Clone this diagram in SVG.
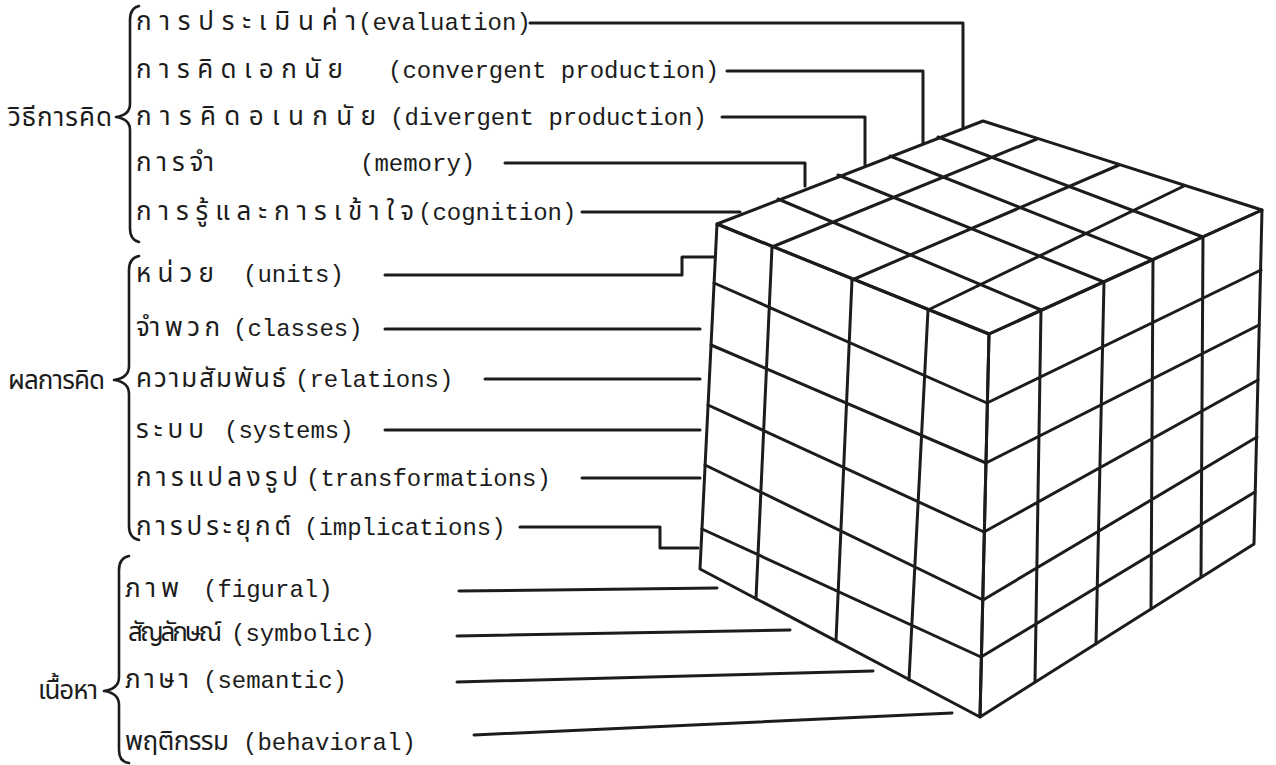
<svg xmlns="http://www.w3.org/2000/svg" width="1276" height="765" viewBox="0 0 1276 765">
<style>
.bg{fill:#ffffff}
.ln{fill:none;stroke:#1c1c1c;stroke-width:3;stroke-linecap:round;stroke-linejoin:round}
.cb{fill:none;stroke:#1c1c1c;stroke-width:3;stroke-linecap:round;stroke-linejoin:round}
.br{fill:none;stroke:#1c1c1c;stroke-width:2.6;stroke-linecap:round;stroke-linejoin:round}
.th{font-family:"Noto Sans Thai","Loma","Tlwg Typewriter","Garuda","Norasi","DejaVu Sans","Noto Sans",sans-serif;font-size:26px;fill:#1c1c1c}
.en{font-family:"Liberation Mono","Courier New",monospace;font-size:24px;fill:#1c1c1c}
</style>
<rect class="bg" x="0" y="0" width="1276" height="765"/>

<g id="cube">
  <!-- top face -->
  <polygon class="cb" points="983,121 1262,210 989,334 717,224"/>
  <path class="cb" d="M938,137 L1203,237 M890,156 L1153,260 M838,175 L1104,282 M778,199 L1041,310
                      M1037,139 L772,247 M1119,165 L852,280 M1184,186 L928,310"/>
  <!-- left face -->
  <polygon class="cb" points="717,224 989,334 980,717 700,569"/>
  <path class="cb" d="M714,283 L987,403 M711,345 L986,463 M708,405 L984,532 M705,465 L983,600 M702,529 L981,657
                      M772,247 L756,599 M852,280 L836,641 M928,310 L909,680"/>
  <!-- right face -->
  <polygon class="cb" points="989,334 1262,210 1254,544 980,717"/>
  <path class="cb" d="M987,403 L1261,270 M986,463 L1259,325 M984,532 L1258,380 M983,600 L1257,437 M981,657 L1255,492
                      M1041,310 L1035,682 M1104,282 L1096,644 M1153,260 L1151,609 M1203,237 L1201,577"/>
</g>

<g id="connectors">
  <polyline class="ln" points="530,23 963,23 963,128"/>
  <polyline class="ln" points="727,71 923,71 923,143"/>
  <polyline class="ln" points="722,117 865,117 865,165"/>
  <polyline class="ln" points="505,163 805,163 805,186"/>
  <polyline class="ln" points="582,212 740,212"/>
  <polyline class="ln" points="385,275 682,275 682,257 714,257"/>
  <polyline class="ln" points="385,329 700,329"/>
  <polyline class="ln" points="485,379 700,379"/>
  <polyline class="ln" points="385,430 700,430"/>
  <polyline class="ln" points="582,478 700,478"/>
  <polyline class="ln" points="520,527 660,527 660,548 698,548"/>
  <polyline class="ln" points="459,591 717,588"/>
  <polyline class="ln" points="457,636 790,630"/>
  <polyline class="ln" points="457,682 873,671"/>
  <polyline class="ln" points="474,735 952,713"/>
</g>

<g id="group-operations">
  <path class="br" d="M139,6 Q130,8 130,20 L130,104 Q130,115 116,117 Q130,119 130,130 L130,228 Q130,240 139,242"/>
  <text class="th" x="8" y="126" textLength="104" lengthAdjust="spacing">วิธีการคิด</text>
  <g id="op-evaluation"><text x="0" y="30"><tspan class="th" x="136" textLength="220" lengthAdjust="spacing">การประเมินค่า</tspan><tspan class="en" x="358">(evaluation)</tspan></text></g>
  <g id="op-convergent"><text x="0" y="78"><tspan class="th" x="136" textLength="207" lengthAdjust="spacing">การคิดเอกนัย</tspan><tspan class="en" x="388">(convergent production)</tspan></text></g>
  <g id="op-divergent"><text x="0" y="125"><tspan class="th" x="136" textLength="240" lengthAdjust="spacing">การคิดอเนกนัย</tspan><tspan class="en" x="390">(divergent production)</tspan></text></g>
  <g id="op-memory"><text x="0" y="171"><tspan class="th" x="136" textLength="78" lengthAdjust="spacing">การจำ</tspan><tspan class="en" x="360">(memory)</tspan></text></g>
  <g id="op-cognition"><text x="0" y="220"><tspan class="th" x="136" textLength="278" lengthAdjust="spacing">การรู้และการเข้าใจ</tspan><tspan class="en" x="418">(cognition)</tspan></text></g>
</g>

<g id="group-products">
  <path class="br" d="M139,256 Q129,258 129,270 L129,366 Q129,378 114,380 Q129,382 129,394 L129,526 Q129,538 139,540"/>
  <text class="th" x="8" y="389" textLength="97" lengthAdjust="spacing">ผลการคิด</text>
  <g id="pr-units"><text x="0" y="282"><tspan class="th" x="136" textLength="78" lengthAdjust="spacing">หน่วย</tspan><tspan class="en" x="243">(units)</tspan></text></g>
  <g id="pr-classes"><text x="0" y="336"><tspan class="th" x="136" textLength="84" lengthAdjust="spacing">จำพวก</tspan><tspan class="en" x="233">(classes)</tspan></text></g>
  <g id="pr-relations"><text x="0" y="387"><tspan class="th" x="136" textLength="150" lengthAdjust="spacing">ความสัมพันธ์</tspan><tspan class="en" x="295">(relations)</tspan></text></g>
  <g id="pr-systems"><text x="0" y="438"><tspan class="th" x="136" textLength="68" lengthAdjust="spacing">ระบบ</tspan><tspan class="en" x="224">(systems)</tspan></text></g>
  <g id="pr-transformations"><text x="0" y="486"><tspan class="th" x="136" textLength="162" lengthAdjust="spacing">การแปลงรูป</tspan><tspan class="en" x="306">(transformations)</tspan></text></g>
  <g id="pr-implications"><text x="0" y="535"><tspan class="th" x="136" textLength="155" lengthAdjust="spacing">การประยุกต์</tspan><tspan class="en" x="304">(implications)</tspan></text></g>
</g>

<g id="group-contents">
  <path class="br" d="M129,556 Q119,558 119,570 L119,677 Q119,689 104,691 Q119,693 119,705 L119,750 Q119,762 129,763"/>
  <text class="th" x="38" y="699" textLength="60" lengthAdjust="spacing">เนื้อหา</text>
  <g id="ct-figural"><text x="0" y="597"><tspan class="th" x="125" textLength="54" lengthAdjust="spacing">ภาพ</tspan><tspan class="en" x="203">(figural)</tspan></text></g>
  <g id="ct-symbolic"><text x="0" y="641"><tspan class="th" x="125" textLength="94" lengthAdjust="spacing">สัญลักษณ์</tspan><tspan class="en" x="231">(symbolic)</tspan></text></g>
  <g id="ct-semantic"><text x="0" y="688"><tspan class="th" x="125" textLength="64" lengthAdjust="spacing">ภาษา</tspan><tspan class="en" x="203">(semantic)</tspan></text></g>
  <g id="ct-behavioral"><text x="0" y="750"><tspan class="th" x="125" textLength="104" lengthAdjust="spacing">พฤติกรรม</tspan><tspan class="en" x="243">(behavioral)</tspan></text></g>
</g>
</svg>
